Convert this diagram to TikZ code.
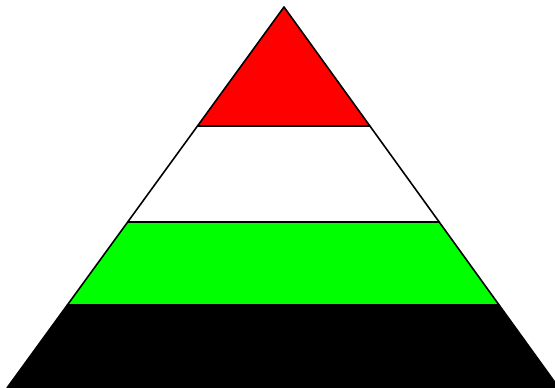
\documentclass[tikz,border=0pt]{standalone}
\usetikzlibrary{calc}
\definecolor{brightgreen}{RGB}{0,255,0}
\definecolor{brightred}{RGB}{255,0,0}

\begin{document}
\begin{tikzpicture}[x=0.02cm, y=-0.02cm,
        band/.style={draw=black, line width=0.9pt, line join=round}]
        \useasboundingbox (0,0) rectangle (555,388);
        % Corners of the pyramid
        \coordinate (top) at (284,7);
        \coordinate (bl) at (7,388);
        \coordinate (br) at (559,388);
        % Band edges
        \coordinate (al) at ($(top)!0.3123!(bl)$);
        \coordinate (ar) at ($(top)!0.3123!(br)$);
        \coordinate (bl2) at ($(top)!0.5643!(bl)$);
        \coordinate (br2) at ($(top)!0.5643!(br)$);
        \coordinate (cl) at ($(top)!0.7822!(bl)$);
        \coordinate (cr) at ($(top)!0.7822!(br)$);
        % Draw bands
        \draw[band, fill=black] (cl) -- (cr) -- (br) -- (bl) -- cycle;
        \draw[band, fill=brightgreen] (bl2) -- (br2) -- (cr) -- (cl) -- cycle;
        \draw[band, fill=white] (al) -- (ar) -- (br2) -- (bl2) -- cycle;
        \draw[band, fill=brightred] (top) -- (ar) -- (al) -- cycle;
    \end{tikzpicture}
\end{document}
